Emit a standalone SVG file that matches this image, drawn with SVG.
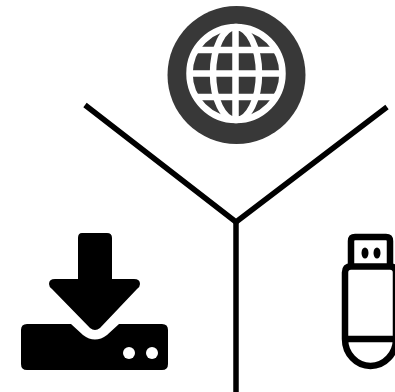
<svg xmlns="http://www.w3.org/2000/svg" width="395" height="392" viewBox="0 0 395 392">
<style>
.gl{fill:none;stroke:#fff;stroke-width:6.500}
.ln{fill:none;stroke:#000;stroke-width:5.500}
.us{fill:none;stroke:#000;stroke-width:6.500}
</style>
<rect width="395" height="392" fill="#fff"/>
<g id="connectors">
<path class="ln" d="M85 105L236 222L387 107"/>
<path class="ln" d="M236 222V392"/>
</g>
<g id="globe">
<circle cx="236.500" cy="75" r="69" fill="#383838"/>
<circle class="gl" cx="236" cy="73.500" r="46.500"/>
<ellipse class="gl" cx="236" cy="73.500" rx="23" ry="46.500"/>
<path class="gl" d="M235.500 27V120M190 73.500H282M196 50H276M196 97H276"/>
</g>
<g id="download">
<path d="M82 233H107Q112 233 112 238V279H134Q140 279 140 284Q140 287 137 289L100 328Q95 332 90 328L52 289Q49 287 49 284Q49 279 55 279H78V238Q78 233 82 233Z"/>
<path d="M27 324H71L83 335Q95 344 107 335L119 324H162Q168 324 168 330V364Q168 370 162 370H27Q21 370 21 364V330Q21 324 27 324Z"/>
<circle cx="129" cy="353" r="6" fill="#fff"/>
<circle cx="152" cy="353" r="6" fill="#fff"/>
</g>
<g id="usb">
<path class="us" d="M351 266.500V241Q351 237 355 237H386Q390 237 390 241V266.500"/>
<path class="us" d="M345 339V272.500Q345 266.500 351 266.500H390Q396 266.500 396 272.500V339A25.500 27 0 0 1 345 339Z"/>
<path class="us" d="M345 339H396"/>
<ellipse cx="365" cy="253" rx="3.500" ry="5.500"/>
<ellipse cx="377" cy="253" rx="3.500" ry="5.500"/>
</g>
</svg>
